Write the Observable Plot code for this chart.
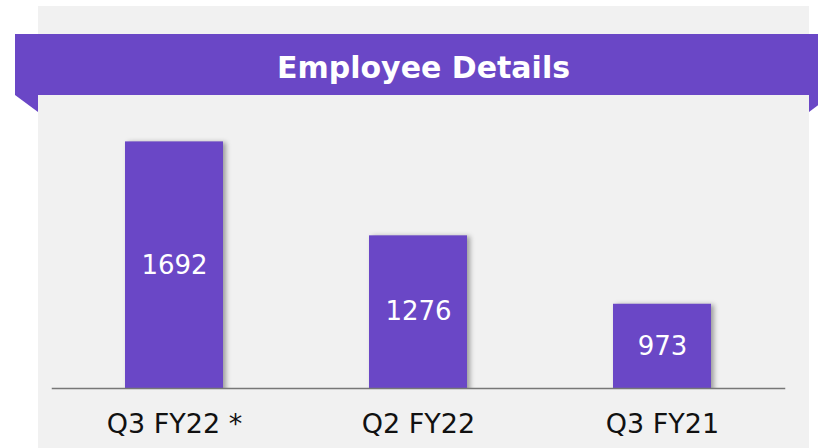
<!DOCTYPE html>
<html>
<head>
<meta charset="utf-8">
<script src="https://cdn.jsdelivr.net/npm/d3@7"></script>
<script src="https://cdn.jsdelivr.net/npm/@observablehq/plot@0.6"></script>
<style>
  html, body { margin: 0; padding: 0; background: #ffffff; }
  #wrap { position: relative; width: 818px; height: 448px; overflow: hidden; font-family: Verdana, "DejaVu Sans", sans-serif; }
  #panel { position: absolute; left: 38px; top: 6px; width: 771px; height: 460px; background: #f1f1f1; }
  #banner { position: absolute; left: 15px; top: 34px; width: 817px; height: 61px; background: #6a47c6;
            color: #ffffff; font-weight: bold; font-size: 30px; line-height: 67px; text-align: center;
            font-family: Verdana, "DejaVu Sans", sans-serif; overflow: hidden; }
  #folds { position: absolute; left: 0; top: 0; }
  #chart { position: absolute; left: 0; top: 0; }
  #chart svg g[aria-label="bar"] rect { filter: drop-shadow(3px 1px 2.5px rgba(0,0,0,0.35)); }
</style>
</head>
<body>
<div id="wrap">
  <div id="panel"></div>
  <svg id="folds" width="818" height="448">
    <polygon points="15,95 38,95 38,112" fill="#6a47c6"/>
    <polygon points="809,95 832,95 809,112" fill="#6a47c6"/>
  </svg>
  <div id="banner">Employee Details</div>
  <div id="chart"></div>
</div>
<script>
const categories = ["Q3 FY22 *", "Q2 FY22", "Q3 FY21"];
const employees = [1692, 1276, 973];
const yDomain = [600, 1800];

const data = categories.map((c, i) => ({category: c, value: employees[i]}));
const purple = "#6a47c6";

const chart = Plot.plot({
  width: 818,
  height: 448,
  marginLeft: 52,
  marginRight: 34,
  marginTop: 117,
  marginBottom: 60,
  style: {background: "transparent", fontFamily: "Verdana, 'DejaVu Sans', sans-serif", color: "#111"},
  x: {domain: categories, paddingInner: 0.6, paddingOuter: 0.3, label: null},
  y: {domain: yDomain, axis: null},
  marks: [
    Plot.barY(data, {x: "category", y: "value", fill: purple, clip: true}),
    Plot.frame({anchor: "bottom", stroke: "#777", strokeWidth: 1.5}),
    Plot.text(data, {x: "category", y: d => (d.value + yDomain[0]) / 2, text: d => String(d.value),
                     fill: "white", fontSize: 26}),
    Plot.axisX({tickSize: 0, tickPadding: 25, fontSize: 27, fill: "#111", label: null})
  ]
});
document.getElementById("chart").appendChild(chart);
</script>
</body>
</html>
